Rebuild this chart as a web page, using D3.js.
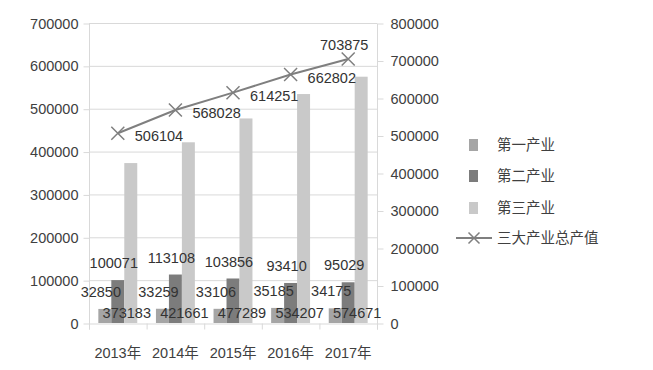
<!DOCTYPE html>
<html>
<head>
<meta charset="utf-8">
<script src="https://cdn.jsdelivr.net/npm/d3@7"></script>
<style>
  body { margin: 0; background: #fff; }
  svg text { font-family: "Liberation Sans", "Noto Sans CJK SC", sans-serif; }
</style>
</head>
<body>
<div id="chart"></div>
<script>
(function(d3){

  var years = ['2013年', '2014年', '2015年', '2016年', '2017年'],
      primary = [32850, 33259, 33106, 35185, 34175],
      secondary = [100071, 113108, 103856, 93410, 95029],
      tertiary = [373183, 421661, 477289, 534207, 574671],
      total = [506104, 568028, 614251, 662802, 703875],
      leftTicks = [0, 100000, 200000, 300000, 400000, 500000, 600000, 700000],
      rightTicks = [0, 100000, 200000, 300000, 400000, 500000, 600000, 700000, 800000],
      seriesNames = ['第一产业', '第二产业', '第三产业'],
      lineName = '三大产业总产值';

  var colors = ['#a5a5a5', '#7c7c7c', '#c9c9c9'],
      lineColor = '#7f7f7f',
      gridColor = '#d9d9d9',
      textColor = '#404040',
      fontSize = '14.5px';

  var plot = {left: 89, right: 377, top: 23, bottom: 323};

  var svg = d3.select('#chart').append('svg')
      .attr('width', 653)
      .attr('height', 370);

  var x = d3.scaleBand().domain(years).range([plot.left, plot.right]);
  var inner = d3.scaleBand().domain([0, 1, 2]).range([0, x.bandwidth()]).paddingOuter(0.72);
  var yL = d3.scaleLinear().domain([0, 700000]).range([plot.bottom, plot.top]);
  var yR = d3.scaleLinear().domain([0, 800000]).range([plot.bottom, plot.top]);

  // gridlines
  svg.append('g').selectAll('line')
      .data(leftTicks.slice(1))
    .enter().append('line')
      .attr('x1', plot.left).attr('x2', plot.right)
      .attr('y1', function(d){ return yL(d) + 0.5 })
      .attr('y2', function(d){ return yL(d) + 0.5 })
      .attr('stroke', gridColor);

  // left axis
  var gl = svg.append('g')
      .attr('transform', 'translate(' + (plot.left + 0.5) + ',0.5)')
      .call(d3.axisLeft(yL).tickValues(leftTicks).tickSize(6).tickPadding(5).tickFormat(d3.format('d')));
  // right axis
  var gr = svg.append('g')
      .attr('transform', 'translate(' + (plot.right + 0.5) + ',0.5)')
      .call(d3.axisRight(yR).tickValues(rightTicks).tickSize(6).tickPadding(7).tickFormat(d3.format('d')));
  // bottom axis, ticks on band boundaries
  var gb = svg.append('g')
      .attr('transform', 'translate(0,' + (plot.bottom + 0.5) + ')')
      .call(d3.axisBottom(x).tickSize(0).tickPadding(24));
  gb.selectAll('.cat-tick')
      .data(years.concat(['end']))
    .enter().append('line')
      .attr('x1', function(d, i){ return plot.left + i * x.step() + 0.5 })
      .attr('x2', function(d, i){ return plot.left + i * x.step() + 0.5 })
      .attr('y1', 0).attr('y2', 6)
      .attr('stroke', gridColor);

  [gl, gr, gb].forEach(function(g){
    g.select('.domain').attr('stroke', gridColor);
    g.selectAll('.tick line').attr('stroke', gridColor);
    g.selectAll('text').attr('fill', textColor).style('font-size', fontSize)
      .style('font-family', '"Liberation Sans", "Noto Sans CJK SC", sans-serif');
  });
  gl.select('.domain').attr('d', 'M0,' + plot.top + 'V' + (plot.bottom + 6));
  gr.select('.domain').attr('d', 'M0,' + plot.top + 'V' + (plot.bottom + 6));

  // bars
  var series = [primary, secondary, tertiary];
  series.forEach(function(vals, s){
    svg.append('g').selectAll('rect')
        .data(vals)
      .enter().append('rect')
        .attr('x', function(d, i){ return x(years[i]) + inner(s) })
        .attr('width', inner.bandwidth())
        .attr('y', function(d){ return yL(d) })
        .attr('height', function(d){ return plot.bottom - yL(d) })
        .attr('fill', colors[s]);
  });

  // bar labels
  series.forEach(function(vals, s){
    svg.append('g').selectAll('text')
        .data(vals)
      .enter().append('text')
        .attr('x', function(d, i){ return x(years[i]) + inner(s) + inner.bandwidth() / 2 - 4 })
        .attr('y', function(d){ return s < 2 ? yL(d) - 17 : plot.bottom - 10 })
        .attr('dy', '0.35em')
        .attr('text-anchor', 'middle')
        .attr('fill', '#333')
        .style('font-size', fontSize)
        .text(function(d){ return d });
  });

  // total line
  var cx = function(d, i){ return x(years[i]) + x.bandwidth() / 2 };
  var line = d3.line()
      .x(cx)
      .y(function(d){ return yR(d) });
  svg.append('path')
      .datum(total)
      .attr('d', line)
      .attr('fill', 'none')
      .attr('stroke', lineColor)
      .attr('stroke-width', 2);

  var cross = function(sel, r){
    sel.append('path')
      .attr('d', 'M' + (-r) + ',' + (-r) + 'L' + r + ',' + r + 'M' + (-r) + ',' + r + 'L' + r + ',' + (-r))
      .attr('stroke', lineColor)
      .attr('stroke-width', 1.5)
      .attr('fill', 'none');
  };

  svg.append('g').selectAll('g')
      .data(total)
    .enter().append('g')
      .attr('transform', function(d, i){ return 'translate(' + cx(d, i) + ',' + yR(d) + ')' })
      .call(cross, 6.5);

  svg.append('g').selectAll('text')
      .data(total)
    .enter().append('text')
      .attr('x', function(d, i){ return i < 4 ? cx(d, i) + 17 : cx(d, i) - 4 })
      .attr('y', function(d, i){ return i < 4 ? yR(d) + 3 : yR(d) - 14 })
      .attr('dy', '0.35em')
      .attr('text-anchor', function(d, i){ return i < 4 ? 'start' : 'middle' })
      .attr('fill', '#333')
      .style('font-size', fontSize)
      .text(function(d){ return d });

  // legend
  var legend = svg.append('g');
  var legendY = [145, 176, 208];
  seriesNames.forEach(function(name, i){
    legend.append('rect')
      .attr('x', 469).attr('y', legendY[i] - 6)
      .attr('width', 9).attr('height', 12)
      .attr('fill', colors[i]);
    legend.append('text')
      .attr('x', 497).attr('y', legendY[i])
      .attr('dy', '0.35em')
      .attr('fill', textColor)
      .style('font-size', fontSize)
      .text(name);
  });
  legend.append('line')
    .attr('x1', 456).attr('x2', 492)
    .attr('y1', 238).attr('y2', 238)
    .attr('stroke', lineColor).attr('stroke-width', 2);
  legend.append('g')
    .attr('transform', 'translate(474,238)')
    .call(cross, 5.5);
  legend.append('text')
    .attr('x', 497).attr('y', 238)
    .attr('dy', '0.35em')
    .attr('fill', textColor)
    .style('font-size', fontSize)
    .text(lineName);

})(d3);
</script>
</body>
</html>
